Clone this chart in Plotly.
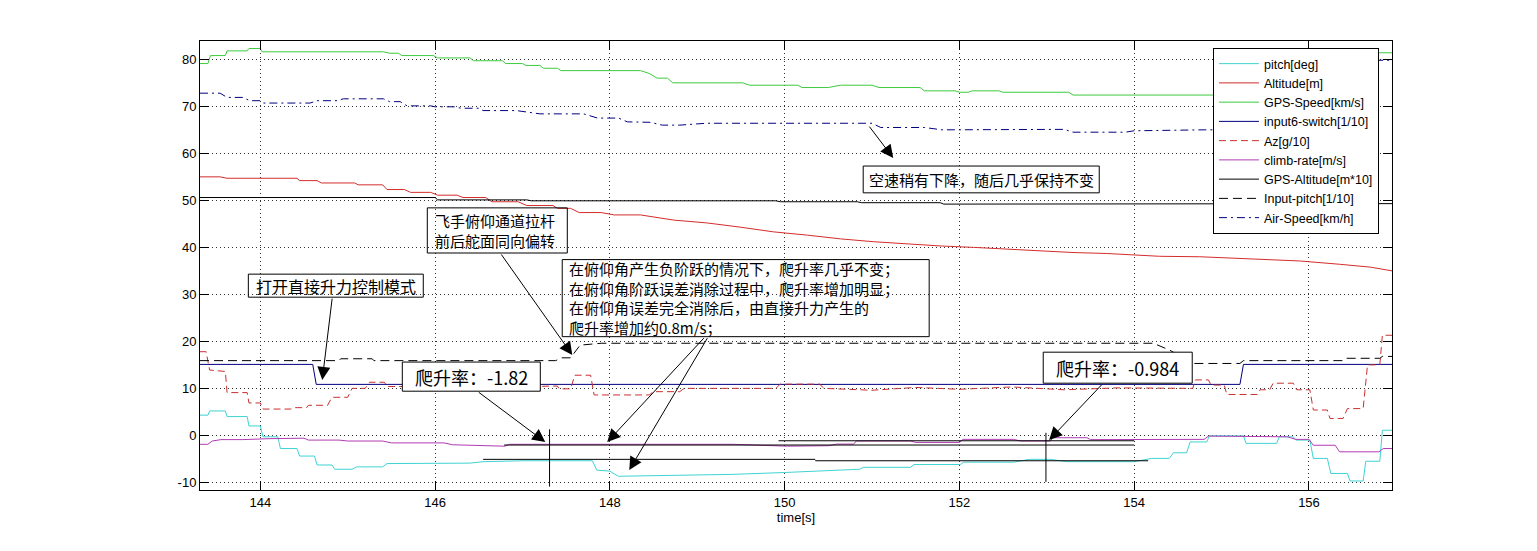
import plotly.graph_objects as go

# ---------------- data ----------------
t_pitch = [143.31, 143.40, 143.42, 143.60, 143.62, 143.85, 143.87, 144.00, 144.03, 144.20, 144.23, 144.42,
           144.45, 144.62, 144.65, 144.82, 144.85, 145.05, 145.10, 145.40, 145.45, 146.40, 146.55, 147.00,
           147.63, 147.80, 147.85, 148.00, 148.05, 148.10, 148.40, 149.40, 150.00, 150.86, 150.90, 151.44,
           151.48, 152.01, 152.05, 152.62, 152.80, 153.04, 153.23, 154.00, 154.20, 154.40, 154.45, 154.60,
           154.64, 154.83, 154.86, 155.25, 155.28, 155.63, 155.66, 155.82, 155.85, 156.01, 156.05, 156.21,
           156.25, 156.44, 156.47, 156.62, 156.65, 156.81, 156.84, 156.95]
v_pitch = [4.3, 4.3, 5.2, 5.2, 4.0, 4.0, 2.0, 2.0, -0.3, -0.3, -2.8, -2.8,
           -4.4, -4.4, -6.3, -6.3, -7.2, -7.2, -6.7, -6.7, -6.0, -5.9, -5.6, -5.4,
           -5.4, -5.4, -7.4, -7.6, -8.2, -8.7, -8.6, -8.3, -7.9, -7.2, -6.8, -6.8,
           -6.2, -6.2, -5.7, -5.7, -5.1, -5.1, -5.6, -5.6, -4.9, -4.9, -3.7, -3.7,
           -1.4, -1.4, -0.1, -0.1, -1.7, -1.7, -0.3, -0.3, -1.0, -1.0, -4.9, -4.9,
           -8.1, -8.1, -9.7, -9.7, -5.5, -5.5, 1.1, 1.1]

t_alt = [143.31, 143.54, 143.62, 144.42, 144.45, 144.65, 144.70, 145.08, 145.12, 145.40, 145.45, 145.65,
         145.72, 145.95, 146.03, 146.25, 146.32, 146.58, 146.65, 146.95, 147.05, 147.35, 147.40, 147.55,
         147.65, 147.90, 148.05, 148.35, 148.73, 149.11, 149.49, 149.87, 150.26, 150.64, 151.02, 151.40,
         151.78, 152.16, 152.54, 152.92, 153.30, 153.68, 154.29, 154.75, 155.33, 155.90, 156.35, 156.70,
         156.95]
v_alt = [55.0, 55.0, 54.7, 54.7, 54.2, 54.2, 53.7, 53.7, 53.3, 53.3, 52.3, 52.3,
         51.7, 51.7, 51.1, 51.1, 50.6, 50.6, 49.7, 49.7, 48.9, 48.9, 48.3, 48.3,
         47.4, 47.4, 46.9, 46.9, 45.8, 45.2, 44.3, 43.3, 42.6, 41.8, 41.2, 40.7,
         40.3, 40.0, 39.6, 39.3, 38.9, 38.7, 38.1, 38.0, 37.5, 37.1, 36.4, 35.8,
         35.0]

t_gps_speed = [143.31, 143.40, 143.43, 143.60, 143.62, 143.85, 143.87, 144.00, 144.02, 145.41, 145.48, 145.58,
               145.62, 145.98, 146.03, 146.40, 146.44, 146.77, 146.81, 147.00, 147.04, 147.20, 147.24, 147.40,
               147.44, 148.35, 148.45, 148.54, 148.66, 148.72, 149.52, 149.60, 150.15, 150.20, 150.50, 150.64,
               151.00, 151.08, 151.55, 151.60, 151.95, 152.00, 152.10, 152.15, 152.45, 152.50, 153.25, 153.30,
               155.50, 156.20, 156.60, 156.95]
v_gps_speed = [79.1, 79.1, 80.8, 80.8, 81.8, 81.8, 82.3, 82.3, 81.6, 81.6, 81.3, 81.3,
               80.8, 80.8, 80.3, 80.3, 79.7, 79.7, 79.1, 79.1, 78.7, 78.7, 78.1, 78.1,
               77.6, 77.6, 77.0, 76.0, 76.0, 75.0, 75.0, 74.5, 74.5, 74.0, 74.0, 74.5,
               74.5, 74.0, 74.0, 73.3, 73.3, 73.0, 73.0, 73.3, 73.3, 73.0, 73.0, 72.4,
               72.4, 77.0, 81.4, 81.4]

t_switch = [143.31, 144.60, 144.64, 155.21, 155.25, 156.95]
v_switch = [15.1, 15.1, 10.85, 10.85, 15.1, 15.1]

t_az = [143.31, 143.38, 143.42, 143.60, 143.62, 143.85, 143.87, 144.00, 144.03, 144.35, 144.38, 144.53,
        144.55, 144.77, 144.82, 145.00, 145.05, 145.20, 145.25, 145.42, 145.45, 145.60, 146.40, 147.20,
        147.40, 147.42, 147.55, 147.60, 147.78, 147.82, 148.45, 148.50, 148.80, 148.85, 149.90, 149.95,
        150.40, 150.45, 151.00, 151.50, 152.00, 152.60, 153.20, 153.80, 154.40, 154.67, 154.70, 154.85,
        154.88, 155.03, 155.06, 155.41, 155.44, 155.55, 155.59, 155.82, 155.86, 156.01, 156.05, 156.21,
        156.24, 156.39, 156.44, 156.62, 156.67, 156.81, 156.84, 156.95]
v_az = [17.8, 17.8, 13.9, 13.6, 9.1, 9.1, 6.9, 6.9, 5.6, 5.6, 5.9, 5.9,
        6.4, 6.4, 8.1, 8.1, 10.0, 10.0, 11.3, 11.3, 10.4, 10.4, 10.2, 10.5,
        10.5, 9.9, 9.9, 12.8, 12.8, 8.6, 8.6, 9.3, 9.3, 10.0, 10.0, 10.9,
        10.9, 10.0, 9.6, 10.2, 9.8, 10.3, 9.7, 10.1, 10.0, 10.0, 11.8, 11.8,
        10.7, 10.7, 8.7, 8.7, 9.7, 9.7, 11.1, 11.1, 9.7, 9.7, 5.4, 5.4,
        3.6, 3.6, 5.7, 5.7, 15.0, 15.0, 21.3, 21.3]

t_climb = [143.31, 143.40, 143.45, 143.55, 143.80, 143.90, 144.10, 144.50, 144.55, 144.90, 145.00, 145.40,
           145.50, 146.10, 146.20, 146.80, 146.85, 147.23, 148.21, 148.43, 149.41, 150.03, 150.50, 150.60,
           150.79, 150.82, 151.44, 151.50, 152.00, 152.04, 152.62, 152.70, 153.04, 153.07, 153.46, 153.50,
           154.80, 154.85, 155.20, 155.25, 155.75, 155.85, 156.00, 156.05, 156.30, 156.35, 156.80, 156.85,
           156.95]
v_climb = [-1.9, -1.9, -1.2, -0.9, -0.9, -0.8, -0.7, -0.6, -1.0, -1.0, -1.2, -1.2,
           -1.6, -1.6, -2.0, -2.3, -1.9, -1.9, -1.9, -1.9, -1.9, -2.3, -2.2, -1.85,
           -1.85, -1.2, -1.2, -1.5, -1.5, -0.85, -0.85, -1.2, -1.2, -0.5, -0.5, -0.9,
           -0.85, -0.15, -0.15, -0.3, -0.3, -0.85, -0.85, -2.1, -2.1, -3.5, -3.5, -2.8,
           -2.8]

t_gps_alt = [143.31, 146.00, 146.03, 147.05, 147.10, 149.90, 149.95, 150.83, 150.88, 151.78, 151.82, 156.95]
v_gps_alt = [50.6, 50.6, 50.1, 50.1, 49.9, 49.9, 49.7, 49.7, 49.5, 49.5, 49.2, 49.3]

t_in_pitch = [143.31, 144.90, 144.92, 145.28, 145.30, 147.38, 147.45, 147.55, 147.66, 147.90, 154.22, 154.41,
              154.67, 155.21, 155.25, 156.39, 156.43, 156.81, 156.84, 156.95]
v_in_pitch = [15.9, 15.9, 16.3, 16.3, 15.9, 15.9, 16.5, 16.5, 19.2, 19.6, 19.6, 18.1,
              15.3, 15.3, 15.9, 15.9, 16.4, 16.4, 16.8, 16.8]

t_air = [143.31, 143.54, 143.62, 143.80, 143.88, 144.00, 144.04, 144.57, 144.65, 144.88, 144.95, 145.41,
         145.48, 145.60, 145.68, 145.95, 146.00, 146.22, 146.30, 146.50, 146.55, 146.93, 147.20, 147.70,
         147.86, 148.10, 148.20, 148.46, 148.60, 148.80, 149.10, 151.00, 151.10, 151.60, 151.80, 153.10,
         153.20, 153.30, 153.90, 154.00, 154.80, 155.50, 156.30, 156.70, 156.95]
v_air = [72.8, 72.8, 71.9, 71.9, 71.2, 71.2, 70.7, 70.7, 71.2, 71.2, 71.6, 71.6,
         71.0, 71.0, 70.1, 70.1, 69.9, 69.9, 69.6, 69.6, 69.1, 69.1, 68.4, 68.4,
         67.5, 67.5, 66.7, 66.6, 66.0, 66.0, 66.4, 66.4, 65.5, 65.5, 65.0, 65.0,
         65.1, 64.5, 64.5, 64.8, 65.0, 65.0, 74.0, 79.8, 79.8]

series_names = ["pitch[deg]", "Altitude[m]", "GPS-Speed[km/s]", "input6-switch[1/10]", "Az[g/10]",
                "climb-rate[m/s]", "GPS-Altitude[m*10]", "Input-pitch[1/10]", "Air-Speed[km/h]"]

x_ticks = [144, 146, 148, 150, 152, 154, 156]
y_ticks = [-10, 0, 10, 20, 30, 40, 50, 60, 70, 80]
x_title = "time[s]"

# reference segments drawn on the chart (x0, y0, x1, y1)
ref_segments = [
    (146.79, -2.05, 154.00, -2.05),
    (149.93, -1.15, 154.00, -1.15),
    (146.55, -5.10, 150.35, -5.10),
    (150.35, -5.40, 154.16, -5.40),
    (147.31, 1.3, 147.31, -10.9),
    (152.99, 0.55, 152.99, -9.9),
]

# callout boxes (x0, y0, x1, y1, filled)
boxes = [
    (143.863, 34.3, 145.865, 29.4, False),
    (145.911, 48.4, 147.513, 38.8, False),
    (147.455, 37.4, 151.654, 21.0, False),
    (145.625, 15.6, 147.204, 9.4, True),
    (152.959, 17.7, 154.664, 11.1, True),
    (150.899, 57.3, 153.600, 51.6, False),
]

# callout texts: (text, x, y, size, anchor)
texts = [
    ("打开直接升力控制模式", 144.864, 31.85, 16, "center"),
    ("飞手俯仰通道拉杆<br>前后舵面同向偏转", 145.976, 43.6, 15, "left"),
    ("在俯仰角产生负阶跃的情况下，爬升率几乎不变；<br>在俯仰角阶跃误差消除过程中，爬升率增加明显；<br>"
     "在俯仰角误差完全消除后，由直接升力产生的<br>爬升率增加约0.8m/s；", 147.510, 29.2, 15, "left"),
    ("爬升率：-1.82", 146.414, 12.5, 18, "center"),
    ("爬升率：-0.984", 153.806, 14.4, 18, "center"),
    ("空速稍有下降，随后几乎保持不变", 152.25, 54.45, 15, "center"),
]

# arrows: (head_x, head_y, tail_x, tail_y)
arrows = [
    (144.709, 11.8, 144.824, 29.4),
    (147.570, 17.1, 146.746, 38.8),
    (147.970, -1.43, 149.091, 21.0),
    (148.222, -7.38, 149.126, 21.0),
    (147.261, -1.43, 146.483, 9.4),
    (153.027, -1.0, 153.645, 11.1),
    (151.243, 59.0, 150.957, 66.0),
]

# ---------------- figure ----------------
styles = [
    ("#3FD3D3", "solid"),
    ("#D42C2C", "solid"),
    ("#3CCB3C", "solid"),
    ("#000080", "solid"),
    ("#C83030", "7px,4px"),
    ("#B23AB2", "solid"),
    ("#000000", "solid"),
    ("#000000", "9px,5px"),
    ("#000080", "8px,4px,2px,4px"),
]
data_pairs = [(t_pitch, v_pitch), (t_alt, v_alt), (t_gps_speed, v_gps_speed), (t_switch, v_switch),
              (t_az, v_az), (t_climb, v_climb), (t_gps_alt, v_gps_alt), (t_in_pitch, v_in_pitch),
              (t_air, v_air)]

fig = go.Figure()
for (tx, vy), name, (col, dash) in zip(data_pairs, series_names, styles):
    fig.add_trace(go.Scatter(x=tx, y=vy, mode="lines", name=name,
                             line=dict(color=col, width=1, dash=dash)))

shapes = []
for x0, y0, x1, y1 in ref_segments:
    shapes.append(dict(type="line", xref="x", yref="y", x0=x0, y0=y0, x1=x1, y1=y1,
                       line=dict(color="black", width=1), layer="above"))
for x0, y0, x1, y1, filled in boxes:
    shapes.append(dict(type="rect", xref="x", yref="y", x0=x0, y0=y0, x1=x1, y1=y1,
                       line=dict(color="black", width=1),
                       fillcolor="white" if filled else "rgba(0,0,0,0)", layer="above"))

annotations = []
for txt, x, y, size, anc in texts:
    annotations.append(dict(text=txt, x=x, y=y, xref="x", yref="y", showarrow=False,
                            xanchor=anc, yanchor="middle", align="left",
                            font=dict(family="Noto Sans CJK SC", size=size, color="black")))
for hx, hy, tx, ty in arrows:
    annotations.append(dict(text="", x=hx, y=hy, ax=tx, ay=ty, xref="x", yref="y",
                            axref="x", ayref="y", showarrow=True, arrowhead=2, arrowsize=2.6,
                            arrowwidth=1, arrowcolor="black", standoff=0, startstandoff=0))

axis_common = dict(showline=True, linecolor="black", linewidth=1, mirror="ticks",
                   ticks="inside", ticklen=9, tickcolor="black", tickwidth=1,
                   showgrid=True, gridcolor="#333333", gridwidth=1, griddash="1px,3px",
                   zeroline=False, tickfont=dict(family="Liberation Sans, Arial", size=13, color="black"))

fig.update_layout(
    width=1537, height=551,
    margin=dict(l=200, r=145, t=41, b=61),
    paper_bgcolor="white", plot_bgcolor="white",
    xaxis=dict(range=[143.31, 156.95], tickvals=x_ticks, ticktext=[str(v) for v in x_ticks],
               title=dict(text=x_title, standoff=4,
                          font=dict(family="Liberation Sans, Arial", size=13, color="black")),
               **axis_common),
    yaxis=dict(range=[-11.62, 83.9], tickvals=y_ticks, ticktext=[str(v) for v in y_ticks],
               **axis_common),
    legend=dict(x=0.8498, y=0.9844, xanchor="left", yanchor="top",
                bgcolor="white", bordercolor="black", borderwidth=1,
                font=dict(family="Liberation Sans, Arial", size=12.5, color="black"),
                tracegroupgap=0, itemwidth=40),
    shapes=shapes,
    annotations=annotations,
    showlegend=True,
)

fig.write_html("out.html")
